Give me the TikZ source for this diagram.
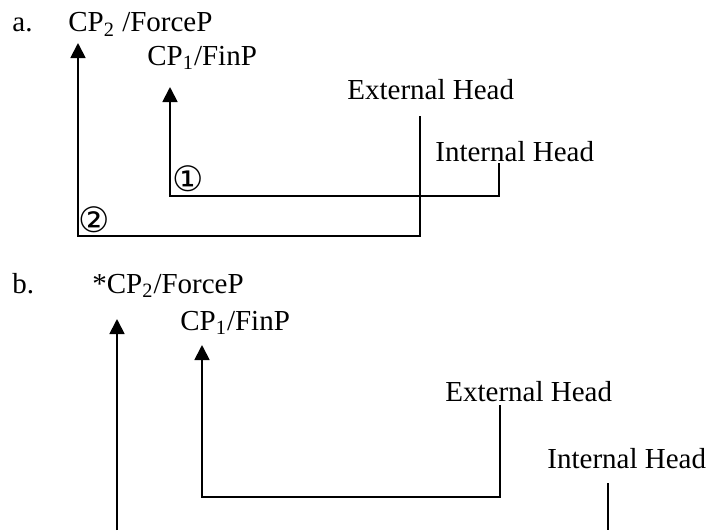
\documentclass[tikz,border=0pt]{standalone}
\usepackage{fontspec}
\setmainfont{Liberation Serif}
\newfontfamily\circfont{DejaVu Sans}
\usetikzlibrary{arrows.meta}

\tikzset{
  lbl/.style={anchor=base west, inner sep=0pt, font=\fontsize{14.5}{17}\selectfont},
  num/.style={inner sep=0pt, font=\circfont\fontsize{17.5}{19}\selectfont},
  mv/.style={line width=0.9pt, -{Triangle[length=7.5pt,width=7.5pt]}},
  stub/.style={line width=0.9pt}
}

\begin{document}
\begin{tikzpicture}[x=0.5pt, y=-0.5pt]
    \useasboundingbox (0,0) rectangle (712,530);

    % (a)
    \node[lbl] (la) at (12,32) {a.};
    \node[lbl] (cp2a) at (68,32) {CP\textsubscript{2} /ForceP};
    \node[lbl] (cp1a) at (147,65) {CP\textsubscript{1}/FinP};
    \node[lbl] (eha) at (347,99) {External Head};
    \node[lbl] (iha) at (435,161) {Internal Head};

    \coordinate (ia) at (499,163); % foot of Internal Head
    \coordinate (ea) at (420,116); % foot of External Head
    \coordinate (ka) at (170,196);
    \coordinate (kb) at (78,236);
    \coordinate (ta) at (170,87);
    \coordinate (tb) at (78,43);

    \draw[mv] (ia) |- (ka) -- (ta); % first move, to CP1
    \draw[mv] (ea) |- (kb) -- (tb); % second move, to CP2
    \node[num] (n1) at (188,179) {①};
    \node[num] (n2) at (94,220) {②};

    % (b)
    \node[lbl] (lb) at (12,293) {b.};
    \node[lbl] (cp2b) at (92,293) {*CP\textsubscript{2}/ForceP};
    \node[lbl] (cp1b) at (180,330) {CP\textsubscript{1}/FinP};
    \node[lbl] (ehb) at (445,401) {External Head};
    \node[lbl] (ihb) at (547,468) {Internal Head};

    \coordinate (eb) at (500,405); % foot of External Head
    \coordinate (ib) at (608,483); % foot of Internal Head
    \coordinate (kc) at (202,497);
    \coordinate (tc) at (202,345);
    \coordinate (lo) at (117,530);
    \coordinate (td) at (117,319);
    \coordinate (lp) at (608,530);

    \draw[mv] (eb) |- (kc) -- (tc); % External Head to CP1
    \draw[mv] (lo) -- (td); % long move to *CP2
    \draw[stub] (ib) -- (lp); % Internal Head, no landing site
\end{tikzpicture}
\end{document}
